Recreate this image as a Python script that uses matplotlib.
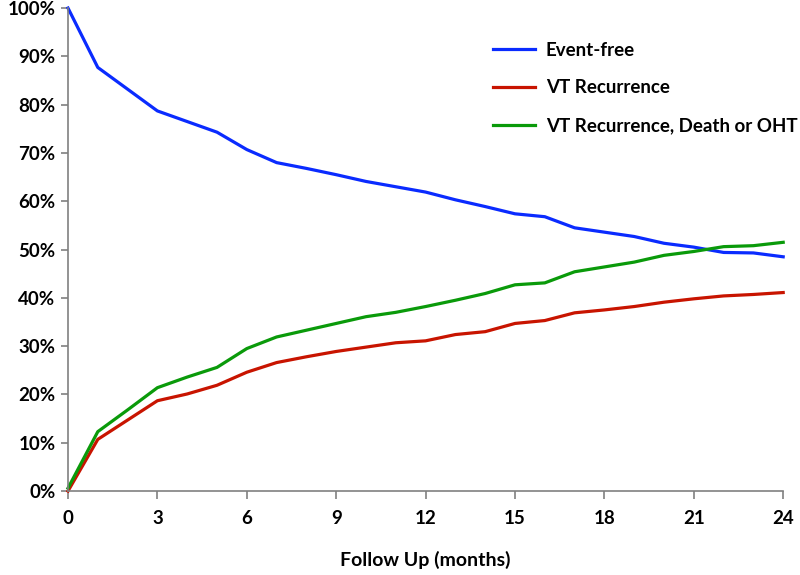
import matplotlib.pyplot as plt
from matplotlib.ticker import FuncFormatter

months = list(range(25))
event_free = [100, 87.7, 83.2, 78.7, 76.5, 74.3, 70.7, 68.0, 66.8, 65.5, 64.1, 63.0, 61.9,
              60.3, 58.9, 57.4, 56.8, 54.5, 53.6, 52.7, 51.3, 50.5, 49.4, 49.3, 48.5]
vt_recurrence = [0, 10.7, 14.7, 18.7, 20.1, 21.9, 24.6, 26.6, 27.8, 28.9, 29.8, 30.7, 31.1,
                 32.4, 33.0, 34.7, 35.3, 36.9, 37.5, 38.2, 39.1, 39.8, 40.4, 40.7, 41.1]
vt_death_oht = [0.6, 12.3, 16.8, 21.4, 23.6, 25.6, 29.5, 31.9, 33.3, 34.7, 36.1, 37.0, 38.2,
                39.5, 40.9, 42.7, 43.1, 45.4, 46.4, 47.4, 48.8, 49.6, 50.6, 50.8, 51.5]

plt.rcParams['font.family'] = ['Lato', 'DejaVu Sans']
plt.rcParams['font.weight'] = 'bold'

fig = plt.figure(figsize=(8, 5.75), dpi=100)
ax = fig.add_axes([0.085, 0.146, 0.894, 0.84])

ax.plot(months, event_free, color='#0A2BFF', lw=2.3, label='Event-free')
ax.plot(months, vt_recurrence, color='#C81400', lw=2.3, label='VT Recurrence')
ax.plot(months, vt_death_oht, color='#0A9A0A', lw=2.3, label='VT Recurrence, Death or OHT')

ax.set_xlim(0, 24)
ax.set_ylim(0, 100)
ax.set_xticks(range(0, 25, 3))
ax.set_yticks(range(0, 101, 10))
ax.yaxis.set_major_formatter(FuncFormatter(lambda v, p: f"{int(v)}%"))

for s in ['top', 'right']:
    ax.spines[s].set_visible(False)
for s in ['left', 'bottom']:
    ax.spines[s].set_color('#808080')
    ax.spines[s].set_linewidth(1.2)
ax.tick_params(axis='both', colors='#808080', width=1.2, length=6, direction='out',
               labelsize=13.5, labelcolor='black', pad=8)
ax.tick_params(axis='y', length=5, pad=4)
for ln in ax.lines:
    ln.set_clip_on(False)

ax.set_xlabel('Follow Up (months)', fontsize=14, fontweight='bold', labelpad=17)

ax.legend(loc='upper left', bbox_to_anchor=(0.571, 0.965), frameon=False, fontsize=13.5,
          handlelength=2.2, labelspacing=1.1, handletextpad=0.6)

fig.savefig('out.png', dpi=100)
